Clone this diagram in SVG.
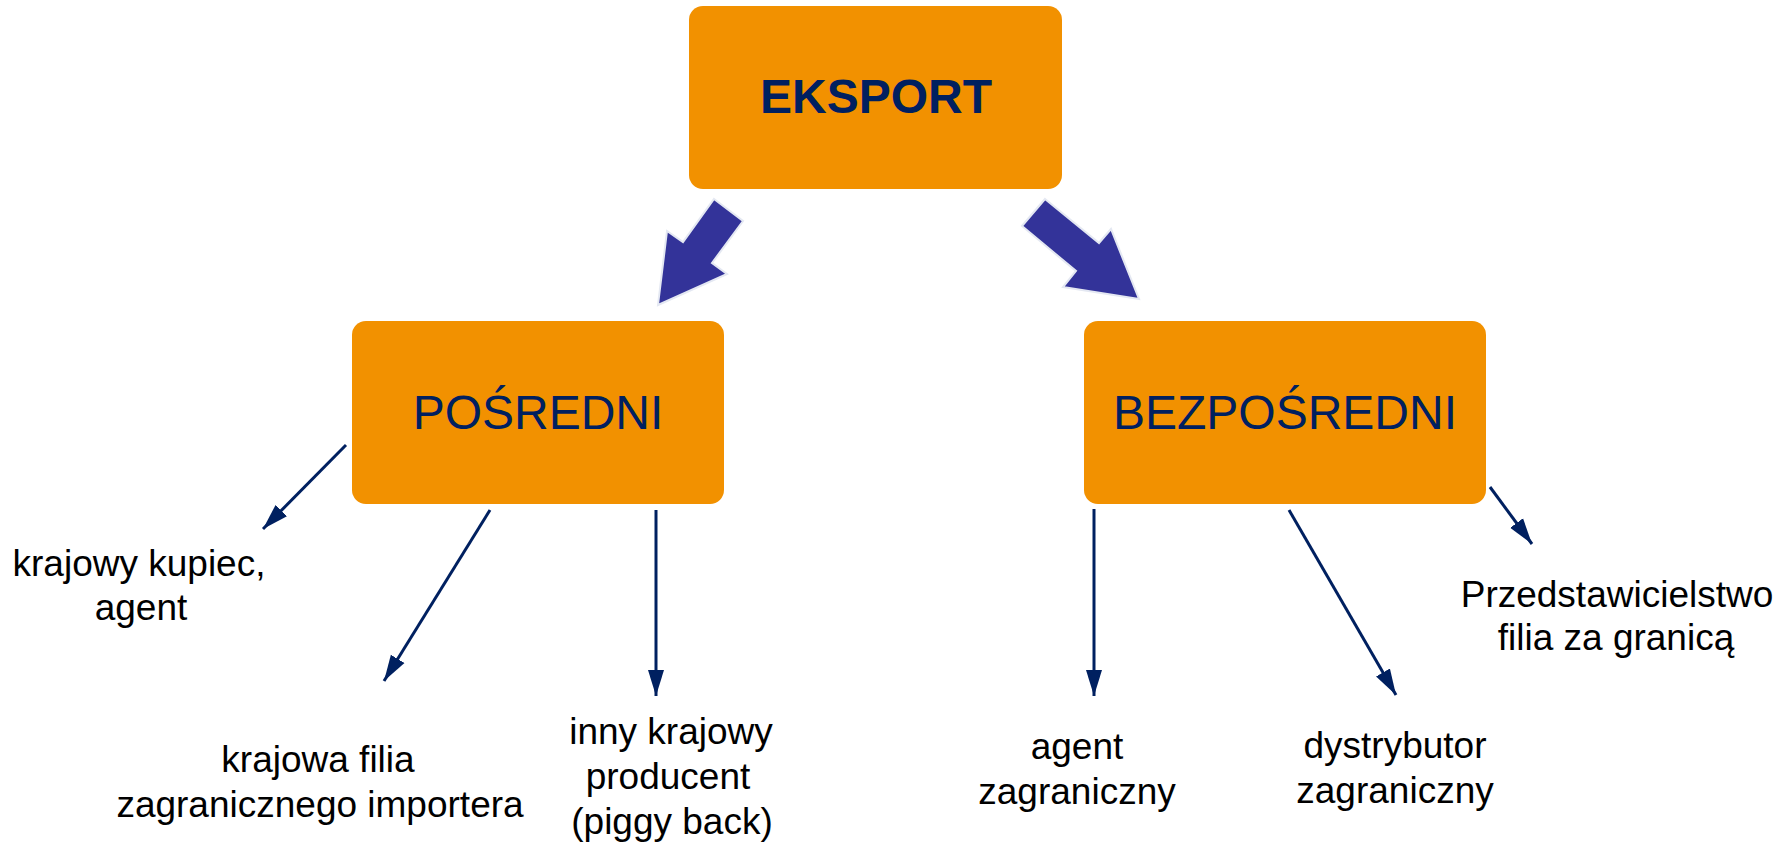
<svg xmlns="http://www.w3.org/2000/svg" width="1792" height="845" viewBox="0 0 1792 845">
  <style>
    .box { fill: #F29100; }
    .head { font-family: "Liberation Sans", Arial, sans-serif; fill: #002060; text-anchor: middle; font-size: 48px; }
    .lbl { font-family: "Liberation Sans", Arial, sans-serif; fill: #000000; text-anchor: middle; font-size: 37px; }
    .conn { stroke: #002060; stroke-width: 3; fill: none; marker-end: url(#tip); }
    .big { fill: #333399; stroke: #E4E8F2; stroke-width: 2; stroke-linejoin: miter; }
  </style>
  <defs>
    <marker id="tip" markerUnits="userSpaceOnUse" markerWidth="30" markerHeight="20" viewBox="0 -10 30 20" refX="26" refY="0" orient="auto">
      <path d="M0,-8 L26,0 L0,8 z" fill="#002060"/>
    </marker>
  </defs>
  <rect width="1792" height="845" fill="#FFFFFF"/>

  <!-- top node -->
  <g id="eksport">
    <rect class="box" x="689" y="6" width="373" height="183" rx="14"/>
    <text class="head" x="876" y="113" font-weight="bold">EKSPORT</text>
  </g>

  <!-- second level nodes -->
  <g id="posredni">
    <rect class="box" x="352" y="321" width="372" height="183" rx="14"/>
    <text class="head" x="538" y="429">POŚREDNI</text>
  </g>
  <g id="bezposredni">
    <rect class="box" x="1084" y="321" width="402" height="183" rx="14"/>
    <text class="head" x="1285" y="429">BEZPOŚREDNI</text>
  </g>

  <!-- leaf labels -->
  <g id="krajowy-kupiec">
    <text class="lbl" x="139" y="576">krajowy kupiec,</text>
    <text class="lbl" x="141" y="620">agent</text>
  </g>
  <g id="krajowa-filia">
    <text class="lbl" x="318" y="772">krajowa filia</text>
    <text class="lbl" x="320" y="817">zagranicznego importera</text>
  </g>
  <g id="inny-producent">
    <text class="lbl" x="671" y="744">inny krajowy</text>
    <text class="lbl" x="668" y="789">producent</text>
    <text class="lbl" x="672" y="834">(piggy back)</text>
  </g>
  <g id="agent-zagraniczny">
    <text class="lbl" x="1077" y="759">agent</text>
    <text class="lbl" x="1077" y="804">zagraniczny</text>
  </g>
  <g id="dystrybutor">
    <text class="lbl" x="1395" y="758">dystrybutor</text>
    <text class="lbl" x="1395" y="803">zagraniczny</text>
  </g>
  <g id="przedstawicielstwo">
    <text class="lbl" x="1617" y="607">Przedstawicielstwo</text>
    <text class="lbl" x="1616" y="650">filia za granicą</text>
  </g>

  <!-- connectors -->
  <g id="connectors">
    <polygon class="big" points="714,199 743,221 712,263 727,274 658,305 667,231 683,242"/>
    <polygon class="big" points="1045,199 1099,243 1111,229 1139,299 1063,287 1076,271 1022,226"/>
    <line class="conn" x1="346" y1="445" x2="263" y2="529"/>
    <line class="conn" x1="490" y1="510" x2="384" y2="681"/>
    <line class="conn" x1="656" y1="510" x2="656" y2="696"/>
    <line class="conn" x1="1094" y1="509" x2="1094" y2="696"/>
    <line class="conn" x1="1289" y1="510" x2="1396" y2="695"/>
    <line class="conn" x1="1490" y1="487" x2="1532" y2="544"/>
  </g>
</svg>
